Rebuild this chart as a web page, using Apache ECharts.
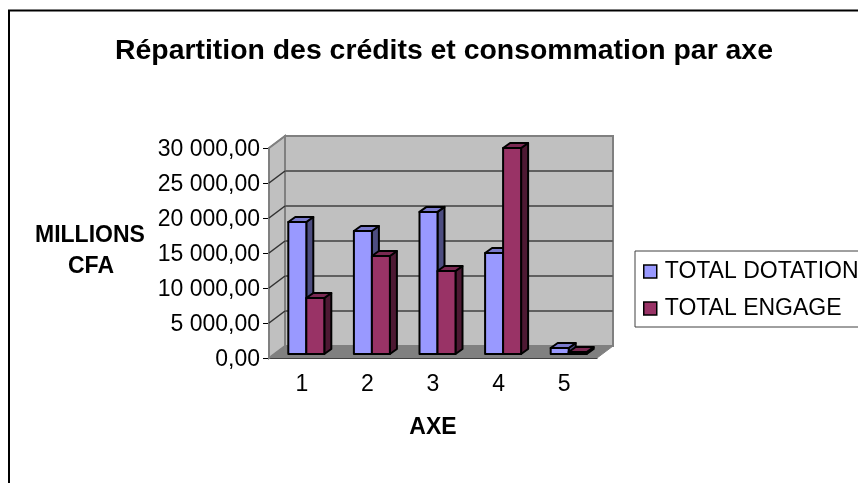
<!DOCTYPE html>
<html>
<head>
<meta charset="utf-8">
<style>
html, body { margin: 0; padding: 0; background: #fff; overflow: hidden; }
#chart { width: 858px; height: 483px; }
</style>
<script src="https://cdn.jsdelivr.net/npm/echarts@6/dist/echarts.min.js"></script>
</head>
<body>
<div id="chart"></div>
<script>
var categories = ['1', '2', '3', '4', '5'];
var totalDotation = [18850, 17570, 20300, 14430, 860];
var totalEngage = [8000, 14000, 11860, 29430, 290];
var yTicks = [0, 5000, 10000, 15000, 20000, 25000, 30000];

var font = '"Liberation Sans", Arial, sans-serif';
// profondeur du mur du fond, et des barres
var depthX = 16, depthY = 12;
var barDepthX = 7, barDepthY = 5;
var barShiftX = 4.5, barShiftY = 4;
var barW = 18;

function frenchNumber(v) {
	var s = String(v);
	if (s.length > 3) {
		s = s.slice(0, s.length - 3) + ' ' + s.slice(s.length - 3);
	}
	return '{n|' + s + ',00}';
}

// mur, sol et lignes de grille
function renderWalls(params, api) {
	var c = params.coordSys;
	var left = c.x, right = c.x + c.width, top = c.y, bottom = c.y + c.height;
	var items = [];
	items.push({ type: 'polygon', shape: { points: [[left + depthX, top - depthY], [right + depthX, top - depthY], [right + depthX, bottom - depthY], [left + depthX, bottom - depthY]] }, style: { fill: '#c0c0c0', stroke: '#808080', lineWidth: 2 } });
	items.push({ type: 'polygon', shape: { points: [[left, top], [left + depthX, top - depthY], [left + depthX, bottom - depthY], [left, bottom]] }, style: { fill: '#c0c0c0', stroke: '#808080', lineWidth: 2 } });
	items.push({ type: 'polygon', shape: { points: [[left, bottom], [left + depthX, bottom - depthY], [right + depthX, bottom - depthY], [right, bottom]] }, style: { fill: '#808080', stroke: '#808080', lineWidth: 1 } });
	for (var i = 0; i < yTicks.length; i++) {
		var y = api.coord([0, yTicks[i]])[1];
		if (i > 0 && i < yTicks.length - 1) {
			items.push({ type: 'line', shape: { x1: left + depthX, y1: y - depthY, x2: right + depthX, y2: y - depthY }, style: { stroke: '#606060', lineWidth: 2 } });
		}
		if (i > 0) {
			items.push({ type: 'line', shape: { x1: left, y1: y, x2: left + depthX, y2: y - depthY }, style: { stroke: i == yTicks.length - 1 ? '#808080' : '#303030', lineWidth: 1.5 } });
		}
	}
	return { type: 'group', children: items };
}

function barRenderer(seriesIndex, front, side, topFace) {
	return function (params, api) {
		var pos = api.coord([api.value(0), api.value(1)]);
		var base = api.coord([api.value(0), 0]);
		var x0 = pos[0] + barShiftX + (seriesIndex == 0 ? -barW : 0);
		var x1 = x0 + barW;
		var yTop = pos[1] - barShiftY;
		var yBase = base[1] - barShiftY;
		var edge = { stroke: '#000', lineWidth: 2, lineJoin: 'round' };
		return {
			type: 'group',
			children: [
				{ type: 'polygon', shape: { points: [[x1, yTop], [x1 + barDepthX, yTop - barDepthY], [x1 + barDepthX, yBase - barDepthY], [x1, yBase]] }, style: Object.assign({ fill: side }, edge) },
				{ type: 'polygon', shape: { points: [[x0, yTop], [x0 + barDepthX, yTop - barDepthY], [x1 + barDepthX, yTop - barDepthY], [x1, yTop]] }, style: Object.assign({ fill: topFace }, edge) },
				{ type: 'rect', shape: { x: x0, y: yTop, width: barW, height: yBase - yTop }, style: Object.assign({ fill: front }, edge) }
			]
		};
	};
}

var myChart = echarts.init(document.getElementById('chart'));
var option = {
	animation: false,
	backgroundColor: '#fff',
	textStyle: { fontFamily: font, color: '#000' },
	title: {
		text: 'Répartition des crédits et consommation par axe',
		left: 439,
		top: 32,
		textAlign: 'center',
		textStyle: { fontFamily: font, fontSize: 28.4, fontWeight: 'bold', color: '#000' }
	},
	graphic: [
		{ type: 'rect', silent: true, z: -10, shape: { x: 9, y: 10.5, width: 860, height: 490 }, style: { fill: null, stroke: '#000', lineWidth: 2 } },
		{ type: 'text', left: 35, top: 224, style: { text: 'MILLIONS', font: 'bold 23px ' + font, fill: '#000' } },
		{ type: 'text', left: 68, top: 255, style: { text: 'CFA', font: 'bold 23px ' + font, fill: '#000' } }
	],
	legend: {
		orient: 'vertical',
		left: 635,
		top: 251,
		padding: [9, 30, 7, 8],
		itemGap: 14,
		itemWidth: 13,
		itemHeight: 13,
		icon: 'rect',
		borderColor: '#404040',
		borderWidth: 1,
		itemStyle: { borderColor: '#000', borderWidth: 1.5 },
		textStyle: { fontFamily: font, fontSize: 23, color: '#000', padding: [0, 0, 0, 3] },
		data: ['TOTAL DOTATION', 'TOTAL ENGAGE']
	},
	grid: { left: 269, top: 148, width: 328, height: 210 },
	xAxis: {
		type: 'category',
		data: categories,
		name: 'AXE',
		nameLocation: 'middle',
		nameGap: 58,
		nameTextStyle: { fontFamily: font, fontSize: 23, fontWeight: 'bold', color: '#000' },
		axisLine: { lineStyle: { color: '#000', width: 1 } },
		axisTick: { alignWithLabel: false, length: 6, lineStyle: { color: '#000' } },
		axisLabel: { fontFamily: font, fontSize: 23, color: '#000', margin: 15 }
	},
	yAxis: {
		type: 'value',
		min: 0,
		max: 30000,
		interval: 5000,
		splitLine: { show: false },
		axisLine: { show: true, lineStyle: { color: '#808080', width: 2 } },
		axisTick: { show: true, length: 6, lineStyle: { color: '#000' } },
		axisLabel: {
			margin: 9,
			formatter: frenchNumber,
			rich: { n: { fontFamily: font, fontSize: 23, color: '#000', padding: [4, 0, 0, 0] } }
		}
	},
	series: [
		{
			name: 'walls',
			type: 'custom',
			renderItem: renderWalls,
			data: [[0, 0]],
			z: 1,
			silent: true
		},
		{
			name: 'TOTAL DOTATION',
			type: 'custom',
			renderItem: barRenderer(0, '#9999ff', '#4d4d80', '#7a7acc'),
			itemStyle: { color: '#9999ff' },
			encode: { x: 0, y: 1 },
			data: totalDotation.map(function (v, i) { return [i, v]; }),
			z: 2
		},
		{
			name: 'TOTAL ENGAGE',
			type: 'custom',
			renderItem: barRenderer(1, '#993366', '#4d1933', '#7a2952'),
			itemStyle: { color: '#993366' },
			encode: { x: 0, y: 1 },
			data: totalEngage.map(function (v, i) { return [i, v]; }),
			z: 3
		}
	]
};
myChart.setOption(option);
</script>
</body>
</html>
